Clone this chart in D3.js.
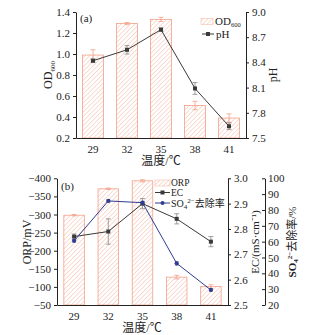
<!DOCTYPE html>
<html><head><meta charset="utf-8">
<script src="https://cdn.jsdelivr.net/npm/d3@7"></script>
<style>
body{margin:0;background:#fff;}
text{font-family:"Liberation Serif","Noto Sans CJK SC",serif;fill:#222;}
</style></head>
<body><svg id="c" width="331" height="335"></svg>
<script>
const temps = ["29","32","35","38","41"];
const od600 = [0.99, 1.29, 1.33, 0.51, 0.39];
const od600Err = [0.05, 0.01, 0.02, 0.04, 0.04];
const pH = [8.42, 8.55, 8.79, 8.09, 7.64];
const pHErr = [0.02, 0.05, 0.02, 0.07, 0.04];
const orp = [-298, -371, -393, -127, -101];
const orpErr = [2, 2, 3, 5, 5];
const ec = [2.77, 2.79, 2.90, 2.84, 2.75];
const ecErr = [0.01, 0.05, 0.02, 0.02, 0.02];
const so4 = [60.5, 85.7, 84.6, 46.3, 29.5];
const so4Err = [0.8, 0.8, 0.8, 1.2, 0.8];
const odTicks = [0.2,0.4,0.6,0.8,1.0,1.2,1.4];
const pHTicks = [7.5,7.8,8.1,8.4,8.7,9.0];
const orpTicks = [-400,-350,-300,-250,-200,-150,-100,-50];
const ecTicks = [2.5,2.6,2.7,2.8,2.9,3.0];
const so4Ticks = [20,30,40,50,60,70,80,90,100];

const svg = d3.select("#c");
const barStroke = "#f2a088", hatchCol = "#f3b29c", lineCol = "#3a3a3a", blue = "#2e3d92";

const defs = svg.append("defs");
const pat = defs.append("pattern").attr("id","hatch").attr("patternUnits","userSpaceOnUse")
  .attr("width",3.2).attr("height",3.2).attr("patternTransform","rotate(45)");
pat.append("rect").attr("width",3.2).attr("height",3.2).attr("fill","#fff");
pat.append("line").attr("x1",0).attr("y1",0).attr("x2",0).attr("y2",3.2)
  .attr("stroke",hatchCol).attr("stroke-width",0.9);

function styleAxis(g){
  g.selectAll("path.domain").attr("stroke","#222").attr("stroke-width",1);
  g.selectAll(".tick line").attr("stroke","#222");
  g.selectAll(".tick text").attr("font-size",11).attr("font-family",'"Liberation Serif",serif').attr("fill","#222");
}

function errBars(g, x, y, vals, errs, color, capW){
  vals.forEach((v,i)=>{
    const cx = x(temps[i]) + x.bandwidth()/2;
    g.append("line").attr("x1",cx).attr("x2",cx).attr("y1",y(v-errs[i])).attr("y2",y(v+errs[i]))
      .attr("stroke",color).attr("stroke-width",0.8);
    [v-errs[i], v+errs[i]].forEach(e=>g.append("line").attr("x1",cx-capW).attr("x2",cx+capW)
      .attr("y1",y(e)).attr("y2",y(e)).attr("stroke",color).attr("stroke-width",0.8));
  });
}

function bars(g, x, y, vals, base){
  g.selectAll(null).data(vals).join("rect")
    .attr("x",(d,i)=>x(temps[i])).attr("width",x.bandwidth())
    .attr("y",d=>Math.min(y(d),y(base))).attr("height",d=>Math.abs(y(base)-y(d)))
    .attr("fill","url(#hatch)").attr("stroke",barStroke).attr("stroke-width",0.8);
}

function lineSeries(g, x, y, vals, color, marker){
  const cx = (d,i)=>x(temps[i])+x.bandwidth()/2;
  g.append("path").datum(vals).attr("fill","none").attr("stroke",color).attr("stroke-width",1)
    .attr("d", d3.line().x(cx).y(d=>y(d)));
  vals.forEach((v,i)=>{
    if(marker==="square") g.append("rect").attr("x",cx(v,i)-2).attr("y",y(v)-2).attr("width",4).attr("height",4).attr("fill",color);
    else g.append("circle").attr("cx",cx(v,i)).attr("cy",y(v)).attr("r",2.1).attr("fill",color);
  });
}

// ---------- Panel (a) ----------
{
  const x = d3.scaleBand().domain(temps).range([76,246]).paddingInner(0.38).paddingOuter(0.19);
  const yL = d3.scaleLinear().domain([0.2,1.4]).range([138,12]);
  const yR = d3.scaleLinear().domain([7.5,9.0]).range([138,12]);
  const g = svg.append("g");
  bars(g, x, yL, od600, 0.2);
  errBars(g, x, yL, od600, od600Err, barStroke, 2.5);
  errBars(g, x, yR, pH, pHErr, "#888", 2.5);
  lineSeries(g, x, yR, pH, lineCol, "square");

  const ax = svg.append("g").attr("transform","translate(0,138)").call(d3.axisBottom(x).tickSize(0).tickPadding(7)); styleAxis(ax);
  const al = svg.append("g").attr("transform","translate(76,0)").call(d3.axisLeft(yL).tickValues(odTicks).tickFormat(d3.format(".1f")).tickSize(3).tickSizeOuter(0)); styleAxis(al);
  const ar = svg.append("g").attr("transform","translate(246,0)").call(d3.axisRight(yR).tickValues(pHTicks).tickFormat(d3.format(".1f")).tickSize(3).tickSizeOuter(0)); styleAxis(ar);

  svg.append("text").attr("x",80).attr("y",22).attr("font-size",11).text("(a)");
  const t1 = svg.append("text").attr("transform","translate(52,75) rotate(-90)").attr("text-anchor","middle").attr("font-size",12);
  t1.append("tspan").text("OD");
  t1.append("tspan").attr("font-size",7).attr("dy",2.5).text("600");
  svg.append("text").attr("transform","translate(277,75) rotate(-90)").attr("text-anchor","middle").attr("font-size",12).text("pH");
  svg.append("text").attr("x",161).attr("y",165).attr("text-anchor","middle").attr("font-size",12).text("温度/℃");

  // legend
  svg.append("rect").attr("x",201).attr("y",18.5).attr("width",12).attr("height",6).attr("fill","url(#hatch)").attr("stroke",hatchCol).attr("stroke-width",0.5);
  const lt = svg.append("text").attr("x",215).attr("y",25).attr("font-size",11);
  lt.append("tspan").text("OD");
  lt.append("tspan").attr("font-size",6.5).attr("dy",2).text("600");
  svg.append("line").attr("x1",202).attr("x2",214).attr("y1",34).attr("y2",34).attr("stroke",lineCol);
  svg.append("rect").attr("x",206).attr("y",32).attr("width",4).attr("height",4).attr("fill",lineCol);
  svg.append("text").attr("x",216).attr("y",38).attr("font-size",11).text("pH");
}

// ---------- Panel (b) ----------
{
  const x = d3.scaleBand().domain(temps).range([57,228]).paddingInner(0.4).paddingOuter(0.2);
  const yL = d3.scaleLinear().domain([-400,-50]).range([178.3,305]);
  const yE = d3.scaleLinear().domain([2.5,3.0]).range([305,178.3]);
  const yS = d3.scaleLinear().domain([20,100]).range([305,178.3]);
  const g = svg.append("g");
  bars(g, x, yL, orp, -50);
  errBars(g, x, yL, orp, orpErr, barStroke, 2.5);
  errBars(g, x, yE, ec, ecErr, "#888", 2.5);
  errBars(g, x, yS, so4, so4Err, "#888", 2);
  lineSeries(g, x, yE, ec, lineCol, "square");
  lineSeries(g, x, yS, so4, blue, "circle");

  const ax = svg.append("g").attr("transform","translate(0,305)").call(d3.axisBottom(x).tickSize(0).tickPadding(7)); styleAxis(ax);
  const al = svg.append("g").attr("transform","translate(57,0)").call(d3.axisLeft(yL).tickValues(orpTicks).tickFormat(d=>String(d).replace("-","−")).tickSize(3).tickSizeOuter(0)); styleAxis(al);
  const ae = svg.append("g").attr("transform","translate(228,0)").call(d3.axisRight(yE).tickValues(ecTicks).tickFormat(d3.format(".1f")).tickSize(3).tickSizeOuter(0)); styleAxis(ae);
  const as = svg.append("g").attr("transform","translate(265,0)").call(d3.axisRight(yS).tickValues(so4Ticks).tickSize(-3).tickPadding(3).tickSizeOuter(0)); styleAxis(as);

  svg.append("text").attr("x",61).attr("y",190).attr("font-size",11).text("(b)");
  svg.append("text").attr("transform","translate(31,242) rotate(-90)").attr("text-anchor","middle").attr("font-size",12).text("ORP/mV");
  svg.append("text").attr("transform","translate(259,242) rotate(-90)").attr("text-anchor","middle").attr("font-size",11).text("EC/(mS·cm⁻¹)");
  const st = svg.append("text").attr("transform","translate(296,242) rotate(-90)").attr("text-anchor","middle").attr("font-size",11).attr("font-weight","bold");
  st.append("tspan").text("SO");
  st.append("tspan").attr("font-size",7).attr("dy",2).text("4");
  st.append("tspan").attr("font-size",7).attr("dy",-6).text("2−");
  st.append("tspan").attr("dy",4).attr("font-weight","normal").text("去除率/%");
  svg.append("text").attr("x",142).attr("y",332).attr("text-anchor","middle").attr("font-size",12).text("温度/℃");

  // legend
  svg.append("rect").attr("x",155).attr("y",180).attr("width",15).attr("height",6).attr("fill","url(#hatch)").attr("stroke",hatchCol).attr("stroke-width",0.5);
  svg.append("text").attr("x",171).attr("y",185.5).attr("font-size",9.5).text("ORP");
  svg.append("line").attr("x1",155).attr("x2",170).attr("y1",192.5).attr("y2",192.5).attr("stroke",lineCol);
  svg.append("rect").attr("x",160.5).attr("y",190.5).attr("width",4).attr("height",4).attr("fill",lineCol);
  svg.append("text").attr("x",171).attr("y",196).attr("font-size",9.5).text("EC");
  svg.append("line").attr("x1",155).attr("x2",170).attr("y1",203).attr("y2",203).attr("stroke",blue);
  svg.append("circle").attr("cx",162.5).attr("cy",203).attr("r",2).attr("fill",blue);
  const lt = svg.append("text").attr("x",171).attr("y",206.5).attr("font-size",10);
  lt.append("tspan").text("SO");
  lt.append("tspan").attr("font-size",7).attr("dy",2).text("4");
  lt.append("tspan").attr("font-size",7).attr("dy",-6).text("2−");
  lt.append("tspan").attr("dy",4).text("去除率");
}
</script></body></html>
